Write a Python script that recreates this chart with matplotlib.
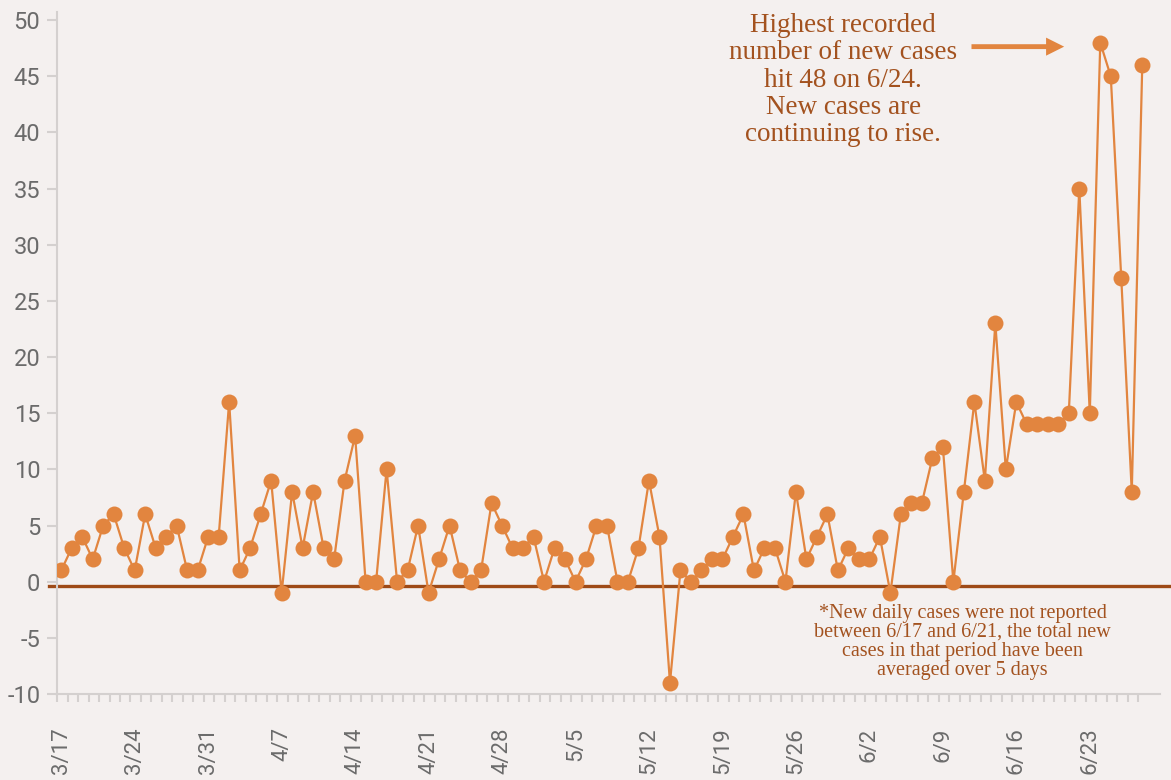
import numpy as np
import matplotlib
matplotlib.use('Agg')
import matplotlib.pyplot as plt
from matplotlib.ticker import FixedLocator

# daily new cases, 3/17 .. 6/28
march = [1, 3, 4, 2, 5, 6, 3, 1, 6, 3, 4, 5, 1, 1, 4]
april = [4, 16, 1, 3, 6, 9, -1, 8, 3, 8, 3, 2, 9, 13, 0,
         0, 10, 0, 1, 5, -1, 2, 5, 1, 0, 1, 7, 5, 3, 3]
may = [4, 0, 3, 2, 0, 2, 5, 5, 0, 0, 3, 9, 4, -9, 1,
       0, 1, 2, 2, 4, 6, 1, 3, 3, 0, 8, 2, 4, 6, 1, 3]
june = [2, 2, 4, -1, 6, 7, 7, 11, 12, 0, 8, 16, 9, 23, 10,
        16, 14, 14, 14, 14, 15, 35, 15, 48, 45, 27, 8, 46]
new_cases = march + april + may + june

tick_labels = ['3/17', '3/24', '3/31', '4/7', '4/14', '4/21', '4/28', '5/5',
               '5/12', '5/19', '5/26', '6/2', '6/9', '6/16', '6/23']
y_ticks = list(range(-10, 51, 5))

bg = '#f4f0ef'
orange = '#e2853f'
brown = '#9e4a17'
text_brown = '#a3521f'
gray = '#d4d0cf'
label_gray = '#6b6b6b'

days = np.arange(len(new_cases))

fig = plt.figure(figsize=(11.71, 7.8), dpi=100, facecolor=bg)
ax = fig.add_axes([0.0487, 0.1103, 0.942, 0.8782], facecolor=bg)

ax.plot(days, new_cases, color=orange, lw=1.6, marker='o', ms=11.5,
        markeredgewidth=0, zorder=3)
ax.axhline(-0.4, xmin=-0.007, xmax=1.02, color=brown, lw=2.4, zorder=2,
           clip_on=False)

ax.set_xlim(-0.4, 104.7)
ax.set_ylim(-10, 51)

for s in ['top', 'right']:
    ax.spines[s].set_visible(False)
ax.spines['left'].set_color(gray)
ax.spines['bottom'].set_color(gray)
ax.spines['left'].set_linewidth(1.5)
ax.spines['bottom'].set_linewidth(1.5)
ax.spines['left'].set_bounds(-10, 50.7)

ax.set_yticks(y_ticks)
ax.set_yticklabels([str(v) for v in y_ticks])
ax.tick_params(axis='y', length=7, width=1.5, color=gray, labelcolor=label_gray,
               labelsize=17, pad=5)
for lbl in ax.get_yticklabels():
    lbl.set_family('Roboto')

ax.set_xticks(np.arange(0, len(tick_labels) * 7, 7))
ax.set_xticklabels(tick_labels, rotation=90, va='top', ha='center')
ax.xaxis.set_minor_locator(FixedLocator(days - 0.4))
ax.tick_params(axis='x', which='major', length=0, labelcolor=label_gray,
               labelsize=16, pad=24)
ax.tick_params(axis='x', which='minor', length=6, width=1.5, color=gray)
for lbl in ax.get_xticklabels():
    lbl.set_family('Roboto')

ax.text(0.7126, 0.994,
        'Highest recorded\nnumber of new cases\nhit 48 on 6/24.\nNew cases are\ncontinuing to rise.',
        transform=ax.transAxes, ha='center', va='top', family='Liberation Serif',
        fontsize=19.5, color=text_brown, linespacing=1.12)

ax.annotate('', xy=(0.913, 0.945), xytext=(0.829, 0.945),
            xycoords='axes fraction', textcoords='axes fraction',
            arrowprops=dict(arrowstyle='simple,head_length=1.3,head_width=1.3,tail_width=0.35',
                            color=orange, lw=0, shrinkA=0, shrinkB=0))

ax.text(0.821, 0.132,
        '*New daily cases were not reported\nbetween 6/17 and 6/21, the total new\ncases in that period have been\naveraged over 5 days',
        transform=ax.transAxes, ha='center', va='top', family='Liberation Serif',
        fontsize=14.5, color=text_brown, linespacing=1.02)

fig.savefig('out.png', dpi=100, facecolor=bg)
